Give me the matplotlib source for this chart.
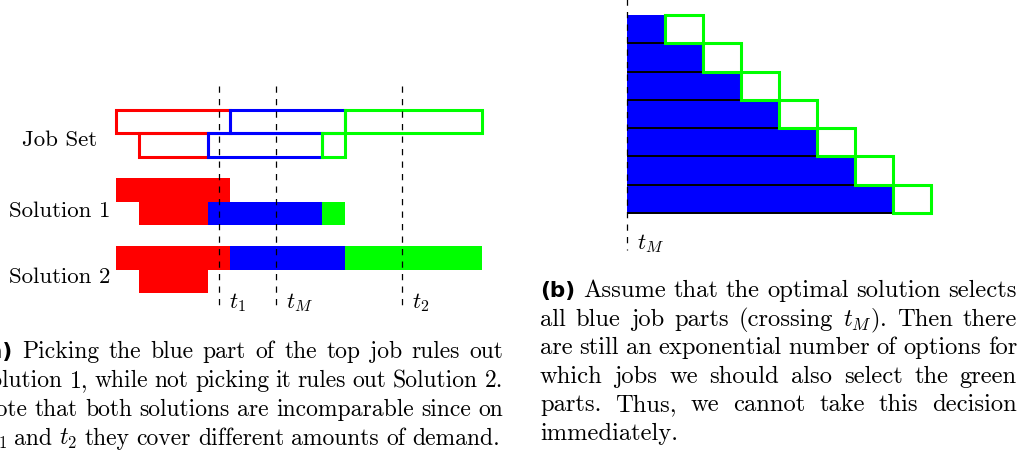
import matplotlib
matplotlib.use("Agg")
import matplotlib.pyplot as plt
from matplotlib.patches import Rectangle

plt.rcParams["font.family"] = ["cmr10", "DejaVu Serif"]
plt.rcParams["mathtext.fontset"] = "cm"
plt.rcParams["axes.unicode_minus"] = False

RED, BLUE, GREEN = "#ff0000", "#0000ff", "#00ff00"

# ---- (a) two jobs, each split into red / blue / green parts ----
red_start = [0, 2]
blue_start = [10, 8]
green_start = [20, 18]
job_end = [32, 20]
row_labels = ["Job Set", "Solution 1", "Solution 2"]
sol1_parts = [["red"], ["red", "blue", "green"]]
sol2_parts = [["red", "blue", "green"], ["red"]]
time_marks = [9, 14, 25]
time_labels = ["$t_1$", "$t_M$", "$t_2$"]

# ---- (b) staircase of jobs ----
blue_len = [1, 2, 3, 4, 5, 6, 7]
green_len = [1, 1, 1, 1, 1, 1, 1]

caption_a = [
    "(a) Picking the blue part of the top job rules out",
    "Solution 1, while not picking it rules out Solution 2.",
    "Note that both solutions are incomparable since on",
    "$t_1$ and $t_2$ they cover different amounts of demand.",
]
caption_b = [
    "(b) Assume that the optimal solution selects",
    "all blue job parts (crossing $t_M$). Then there",
    "are still an exponential number of options for",
    "which jobs we should also select the green",
    "parts.  Thus, we cannot take this decision",
    "immediately.",
]

W, H = 1024, 459
fig = plt.figure(figsize=(W / 100, H / 100), dpi=100)
bg = fig.add_axes([0, 0, 1, 1])
bg.set_xlim(0, W)
bg.set_ylim(H, 0)
bg.axis("off")

FS = 16.5  # labels inside the drawings


def parts_of(j):
    colors = {"red": RED, "blue": BLUE, "green": GREEN}
    spans = {
        "red": (red_start[j], blue_start[j]),
        "blue": (blue_start[j], green_start[j]),
        "green": (green_start[j], job_end[j]),
    }
    return colors, spans


# left panel
axL = fig.add_axes([116 / W, 1 - 298 / H, 366 / W, 188 / H])
axL.set_xlim(0, 32)
axL.set_ylim(8, 0)
axL.axis("off")
row_base = [0, 2.9, 5.8]

# job set outlines, drawn colour by colour
for z, part in enumerate(["red", "blue", "green"]):
    for j in range(len(red_start)):
        colors, spans = parts_of(j)
        a, b = spans[part]
        axL.add_patch(Rectangle((a, row_base[0] + j), b - a, 1, fill=False,
                                ec=colors[part], lw=2.2, zorder=2 + z,
                                clip_on=False))

for base, sol in zip(row_base[1:], [sol1_parts, sol2_parts]):
    for j, chosen in enumerate(sol):
        colors, spans = parts_of(j)
        for part in chosen:
            a, b = spans[part]
            axL.add_patch(Rectangle((a, base + j), b - a, 1, fc=colors[part],
                                    ec="none", zorder=2, clip_on=False))

label_y = [1.55, 4.55, 7.37]
for lab, y in zip(row_labels, label_y):
    axL.text(-4.9, y, lab, ha="center", va="baseline", fontsize=FS)

for t, lab in zip(time_marks, time_labels):
    axL.plot([t, t], [-1.0, 8.3], color="black", lw=0.9,
             linestyle=(0, (5, 5)), zorder=6, clip_on=False)
    axL.annotate(lab, xy=(t, 8.43), xytext=(7, 0), textcoords="offset points",
                 ha="left", va="baseline", fontsize=FS, annotation_clip=False)

# right panel
axR = fig.add_axes([627 / W, 1 - 213 / H, 304 / W, 198 / H])
axR.set_xlim(0, 8)
axR.set_ylim(7, 0)
axR.axis("off")
for i, (bl, gl) in enumerate(zip(blue_len, green_len)):
    axR.add_patch(Rectangle((0, i), bl, 1, fc=BLUE, ec="none", zorder=2,
                            clip_on=False))
    axR.plot([0, bl], [i + 1, i + 1], color="black", lw=1.4, zorder=3,
             clip_on=False, solid_capstyle="butt")
    axR.add_patch(Rectangle((bl, i), gl, 1, fill=False, ec=GREEN, lw=2.2,
                            zorder=4, clip_on=False))
axR.plot([0, 0], [-0.6, 8.3], color="black", lw=0.9, linestyle=(0, (5, 5)),
         zorder=6, clip_on=False)
axR.annotate("$t_M$", xy=(0, 8.27), xytext=(7, 0), textcoords="offset points",
             ha="left", va="baseline", fontsize=FS, annotation_clip=False)

# justified captions
fig.canvas.draw()
renderer = fig.canvas.get_renderer()


def word_text(x, y, w, first, fs):
    if first and w.startswith("(") and len(w) == 3:
        return bg.text(x, y, w, fontsize=15.5, fontweight="bold",
                       family="DejaVu Sans", va="baseline", ha="left")
    return bg.text(x, y, w, fontsize=fs, va="baseline", ha="left")


def caption(lines, x0, x1, ys, fs, last_right=None):
    space = 0.3 * fs * 100 / 72
    for k, (line, y) in enumerate(zip(lines, ys)):
        words = line.split()
        last = k == len(lines) - 1
        texts = [word_text(0, y, w, k == 0 and i == 0, fs)
                 for i, w in enumerate(words)]
        widths = [t.get_window_extent(renderer).width for t in texts]
        if last:
            gap = space
            if last_right is not None:
                x = last_right - sum(widths) - gap * (len(words) - 1)
            else:
                x = x0
        else:
            gap = (x1 - x0 - sum(widths)) / (len(words) - 1)
            x = x0
        for t, w in zip(texts, widths):
            t.set_x(x)
            x += w + gap


caption(caption_a, -22, 503, [358, 387, 416, 445], 17.0, last_right=500)
caption(caption_b, 540, 1017, [297, 326, 354, 383, 411, 440], 17.7)

fig.savefig("out.png", dpi=100)
